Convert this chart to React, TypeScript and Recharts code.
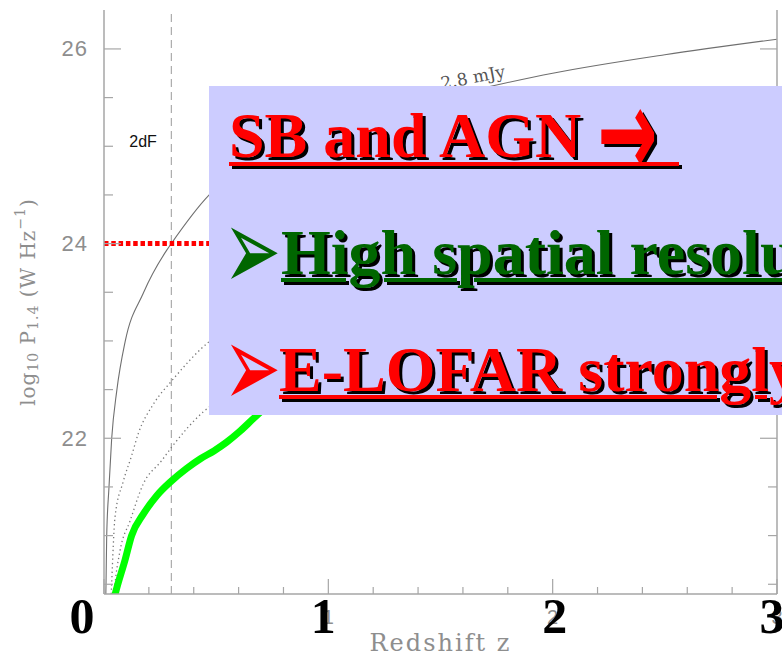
import { LineChart, Line, XAxis, YAxis, ReferenceLine, ReferenceDot } from "recharts";

// axis ticks (minor + major)
const Z_TICKS = [0, 0.2, 0.4, 0.6, 0.8, 1, 1.2, 1.4, 1.6, 1.8, 2, 2.2, 2.4, 2.6, 2.8, 3];
const P_TICKS = [20.5, 21, 21.5, 22, 22.5, 23, 23.5, 24, 24.5, 25, 25.5, 26];
const P_LABELED = [22, 24, 26];
const Z_LABELED = [1, 2, 3];
const Z_BIG = [0, 1, 2, 3];

// 2.8 mJy flux limit (solid grey)
const LIMIT_Z = [0.005, 0.009, 0.012, 0.022, 0.034, 0.057, 0.094, 0.175, 0.279, 0.3, 0.469, 0.6, 0.8, 1.0, 1.25, 1.5, 1.75, 2.0, 2.5, 3.0];
const LIMIT_P = [20.0, 20.5, 20.99, 21.49, 21.99, 22.49, 22.99, 23.49, 23.93, 24.0, 24.5, 24.75, 24.98, 25.15, 25.35, 25.5, 25.63, 25.75, 25.94, 26.1];

// dotted grey curves
const UPPER_Z = [0.025, 0.034, 0.049, 0.085, 0.123, 0.153, 0.22, 0.302, 0.472, 0.6, 0.8, 1.0, 1.5, 2.0, 2.5, 3.0];
const UPPER_P = [20.0, 20.5, 21.19, 21.55, 21.82, 22.05, 22.35, 22.59, 23.0, 23.2, 23.45, 23.65, 23.95, 24.2, 24.38, 24.5];
const LOWER_Z = [0.035, 0.049, 0.071, 0.116, 0.175, 0.257, 0.302, 0.442, 0.6, 0.8, 1.0, 1.5, 2.0, 2.5, 3.0];
const LOWER_P = [20.1, 20.5, 20.84, 21.15, 21.53, 21.77, 21.91, 22.27, 22.5, 22.73, 22.95, 23.3, 23.55, 23.72, 23.85];

// SB / AGN limit (thick green)
const GREEN_Z = [0.04, 0.049, 0.094, 0.123, 0.175, 0.235, 0.3, 0.368, 0.43, 0.49, 0.547, 0.6, 0.665, 0.75, 1.0, 1.5, 2.0, 2.5, 3.0];
const GREEN_P = [20.3, 20.39, 20.75, 21.0, 21.22, 21.41, 21.56, 21.69, 21.79, 21.87, 21.96, 22.06, 22.2, 22.38, 22.8, 23.3, 23.7, 24.0, 24.3];

const SURVEY_Z = 0.3;
const CUT_P = 24;

const pts = (zs: number[], ps: number[]) => zs.map((z, i) => ({ z, p: ps[i] }));

const FRAME = "#a6a6a6";
const GREY = "#8e8e8e";
const BIG_DX: Record<number, number> = { 0: -22, 1: -5, 2: 2, 3: -5 };

function BottomTick({ x, y, payload }: any) {
  const v = payload.value;
  const major = Number.isInteger(v);
  return (
    <g>
      <line x1={x} x2={x} y1={y} y2={y - (major ? 15 : 7)} stroke={FRAME} strokeWidth={1.2} />
      {Z_LABELED.includes(v) && (
        <text x={x} y={y + 23} textAnchor="middle" dominantBaseline="central" fill={GREY} fontSize={20} fontFamily="Liberation Sans">{v}</text>
      )}
      {Z_BIG.includes(v) && (
        <text x={x + BIG_DX[v]} y={y + 39} textAnchor="middle" fill="#000" fontSize={50} fontWeight="bold" fontFamily="Liberation Serif">{v}</text>
      )}
    </g>
  );
}

function TopTick({ x, y, payload }: any) {
  const major = Number.isInteger(payload.value);
  return <line x1={x} x2={x} y1={y} y2={y + (major ? 15 : 7)} stroke={FRAME} strokeWidth={1.2} />;
}

function LeftTick({ x, y, payload }: any) {
  const v = payload.value;
  const major = P_LABELED.includes(v);
  return (
    <g>
      <line x1={x} x2={x + (major ? 17 : 9)} y1={y} y2={y} stroke={FRAME} strokeWidth={1.2} />
      {major && (
        <text x={x - 16} y={y} textAnchor="end" dominantBaseline="central" fill={GREY} fontSize={22} fontFamily="Liberation Sans" letterSpacing={1}>{v}</text>
      )}
    </g>
  );
}

function RightTick({ x, y, payload }: any) {
  const major = P_LABELED.includes(payload.value);
  return <line x1={x} x2={x - (major ? 17 : 9)} y1={y} y2={y} stroke={FRAME} strokeWidth={1.2} />;
}

function XTitle(props: any) {
  const vb = props.viewBox || { x: 104, y: 594, width: 673, height: 59 };
  return (
    <text x={vb.x + vb.width / 2} y={vb.y + 57} textAnchor="middle" fill={GREY} fontSize={24} fontFamily="DejaVu Serif" letterSpacing={2}>
      Redshift z
    </text>
  );
}

function YTitle(props: any) {
  const vb = props.viewBox || { x: 0, y: 10, width: 104, height: 584 };
  const cx = 28;
  const cy = vb.y + vb.height / 2;
  return (
    <text x={cx} y={cy} transform={`rotate(-90 ${cx} ${cy})`} textAnchor="middle" dominantBaseline="central" fill={GREY} fontSize={20} fontFamily="DejaVu Serif" letterSpacing={1}>
      log<tspan fontSize={14} dy={5}>10</tspan>
      <tspan dy={-5}> P</tspan>
      <tspan fontSize={14} dy={5}>1.4</tspan>
      <tspan dy={-5}> (W Hz</tspan>
      <tspan fontSize={14} dy={-8}>−1</tspan>
      <tspan dy={8}>)</tspan>
    </text>
  );
}

const SERIF = "'Liberation Serif', 'Times New Roman', serif";

const boxText = {
  position: "absolute" as const,
  fontFamily: SERIF,
  fontWeight: 700,
  fontSize: 64,
  lineHeight: "64px",
  whiteSpace: "pre" as const,
};

const decorated = (color: string) => ({
  color,
  textShadow: "3px 3px 0 #000",
  textDecoration: "underline",
  textDecorationColor: color,
  textDecorationThickness: "4px",
  textUnderlineOffset: "4px",
});

const bullet = (color: string, top: number) => ({
  position: "absolute" as const,
  left: 233,
  top,
  fontFamily: "'DejaVu Sans'",
  fontSize: 46,
  lineHeight: "46px",
  color,
  transform: "scale(1.5, 2.55)",
  transformOrigin: "50% 50%",
});

export default function App() {
  return (
    <div style={{ position: "absolute", left: 0, top: 0, width: 782, height: 653, overflow: "hidden", background: "#fff" }}>
      <LineChart width={782} height={653} margin={{ top: 10, right: 0, bottom: 0, left: 0 }}>
        <XAxis xAxisId="b" dataKey="z" type="number" domain={[0, 3]} ticks={Z_TICKS} interval={0} allowDataOverflow height={59}
          tickSize={0} tickMargin={0} tickLine={false} axisLine={{ stroke: FRAME, strokeWidth: 1.5 }}
          tick={(p: any) => <BottomTick {...p} />} label={(p: any) => <XTitle {...p} />} />
        <XAxis xAxisId="t" orientation="top" dataKey="z" type="number" domain={[0, 3]} ticks={Z_TICKS} interval={0} allowDataOverflow height={0}
          tickSize={0} tickMargin={0} tickLine={false} axisLine={{ stroke: FRAME, strokeWidth: 1.5 }}
          tick={(p: any) => <TopTick {...p} />} />
        <YAxis yAxisId="l" type="number" domain={[20.4, 26.4]} ticks={P_TICKS} interval={0} allowDataOverflow width={104}
          tickSize={0} tickMargin={0} tickLine={false} axisLine={{ stroke: FRAME, strokeWidth: 1.5 }}
          tick={(p: any) => <LeftTick {...p} />} label={(p: any) => <YTitle {...p} />} />
        <YAxis yAxisId="r" orientation="right" type="number" domain={[20.4, 26.4]} ticks={P_TICKS} interval={0} allowDataOverflow width={5}
          tickSize={0} tickMargin={0} tickLine={false} axisLine={{ stroke: FRAME, strokeWidth: 1.5 }}
          tick={(p: any) => <RightTick {...p} />} />

        <ReferenceLine xAxisId="b" yAxisId="l" x={SURVEY_Z} stroke="#9a9a9a" strokeDasharray="8 5" strokeWidth={1} />

        <Line xAxisId="b" yAxisId="l" data={pts(LOWER_Z, LOWER_P)} dataKey="p" type="monotone" stroke="#777" strokeWidth={1.3} strokeDasharray="1.3 3" dot={false} activeDot={false} isAnimationActive={false} />
        <Line xAxisId="b" yAxisId="l" data={pts(UPPER_Z, UPPER_P)} dataKey="p" type="monotone" stroke="#777" strokeWidth={1.3} strokeDasharray="1.3 3" dot={false} activeDot={false} isAnimationActive={false} />
        <Line xAxisId="b" yAxisId="l" data={pts(LIMIT_Z, LIMIT_P)} dataKey="p" type="monotone" stroke="#6f6f6f" strokeWidth={1.1} dot={false} activeDot={false} isAnimationActive={false} />
        <Line xAxisId="b" yAxisId="l" data={pts(GREEN_Z, GREEN_P)} dataKey="p" type="monotone" stroke="#00ff00" strokeWidth={7} dot={false} activeDot={false} isAnimationActive={false} />

        <ReferenceLine xAxisId="b" yAxisId="l" y={CUT_P} stroke="#ff0000" strokeDasharray="4.5 2.8" strokeWidth={5} />

        <ReferenceDot xAxisId="b" yAxisId="l" x={0.174} y={25.05} r={0}
          shape={(p: any) => <text x={p.cx} y={p.cy} textAnchor="middle" dominantBaseline="central" fontSize={16} fontFamily="Liberation Sans" fill="#111">2dF</text>} />
        <ReferenceDot xAxisId="b" yAxisId="l" x={1.644} y={25.71} r={0}
          shape={(p: any) => (
            <text x={p.cx} y={p.cy} transform={`rotate(-11 ${p.cx} ${p.cy})`} textAnchor="middle" dominantBaseline="central" fontSize={17} fontFamily="DejaVu Serif" fill="#555">2.8 mJy</text>
          )} />
      </LineChart>

      {/* slide overlay */}
      <div style={{ position: "absolute", left: 209, top: 86, width: 640, height: 329, background: "#ccccff" }} />
      <div style={{
        position: "absolute", left: 229, top: 110, fontFamily: SERIF, fontWeight: 700, fontSize: 64, lineHeight: "52px",
        whiteSpace: "pre", color: "#ff0000", borderBottom: "4px solid #ff0000", filter: "drop-shadow(3px 3px 0 #000)",
      }}>
        {"SB and AGN "}
        <span style={{ display: "inline-block", fontFamily: "'DejaVu Sans'", fontWeight: 700, fontSize: 72, lineHeight: "40px", transform: "scaleY(1.7)" }}>→</span>
        {" \u200A"}
      </div>
      <div style={bullet("#006600", 226)}>➢</div>
      <div style={{ ...boxText, left: 281, top: 221 }}>
        <span style={decorated("#006600")}>High spatial resolution</span>
      </div>
      <div style={bullet("#ff0000", 343)}>➢</div>
      <div style={{ ...boxText, left: 279, top: 338 }}>
        <span style={decorated("#ff0000")}>E-LOFAR strongly</span>
      </div>
    </div>
  );
}
